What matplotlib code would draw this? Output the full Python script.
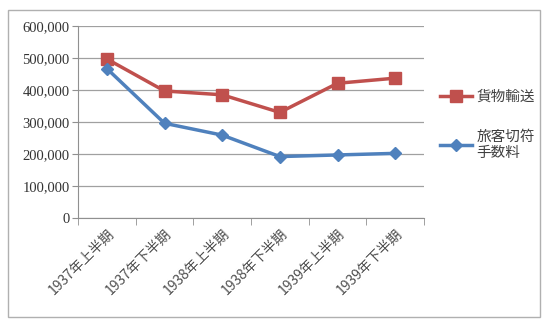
import matplotlib
matplotlib.use("Agg")
import matplotlib.pyplot as plt
from matplotlib.patches import Rectangle
from matplotlib.ticker import FuncFormatter, MultipleLocator, FixedLocator

categories = ["1937年上半期", "1937年下半期", "1938年上半期", "1938年下半期", "1939年上半期", "1939年下半期"]
freight = [497000, 397000, 385000, 330000, 421000, 437000]
passenger = [467000, 296000, 259000, 192000, 197000, 202000]
series_names = ["貨物輸送", "旅客切符\n手数料"]

serif = ["Liberation Serif", "Noto Sans CJK JP", "DejaVu Sans"]
cjk = ["Noto Sans CJK JP", "Liberation Serif", "DejaVu Sans"]

fig = plt.figure(figsize=(5.6, 3.21), dpi=100)
fig.patch.set_facecolor("white")
fig.patches.append(Rectangle((8/560, 1-317/321), 532/560, 307/321, transform=fig.transFigure,
                             fill=False, edgecolor="#b0b0b0", linewidth=1.0))

ax = fig.add_axes([78/560, 1-218/321, 346/560, 192/321])
x = list(range(len(categories)))
l1, = ax.plot(x, freight, color="#C0504D", linewidth=2.5, marker="s", markersize=8, label=series_names[0])
l2, = ax.plot(x, passenger, color="#4F81BD", linewidth=2.5, marker="D", markersize=6.5, label=series_names[1])

ax.set_xlim(-0.5, len(categories) - 0.5)
ax.set_ylim(0, 600000)
ax.yaxis.set_major_locator(MultipleLocator(100000))
ax.yaxis.set_major_formatter(FuncFormatter(lambda v, p: f"{int(v):,}"))
ax.grid(axis="y", color="#a0a0a0", linewidth=0.9)
ax.set_axisbelow(True)
for s in ["top", "right"]:
    ax.spines[s].set_visible(False)
for s in ["left", "bottom"]:
    ax.spines[s].set_color("#909090")
ax.tick_params(axis="y", length=4, color="#909090", labelsize=10.5, pad=2)
for t in ax.get_yticklabels():
    t.set_family(serif)
    t.set_color("#333333")

ax.set_xticks(x)
ax.set_xticklabels(categories, rotation=45, ha="right", va="top", rotation_mode="anchor",
                   fontsize=10, family=cjk, color="#505050")
ax.tick_params(axis="x", which="major", length=0, pad=6)
ax.xaxis.set_minor_locator(FixedLocator([i - 0.5 for i in range(len(categories) + 1)]))
ax.tick_params(axis="x", which="minor", length=5, color="#909090")

leg = fig.legend(handles=[l1, l2], loc="upper left", bbox_to_anchor=(434/560, 1-84/321),
                 frameon=False, prop={"family": cjk, "size": 10.5}, handlelength=2.2,
                 labelspacing=1.75, handletextpad=0.3, borderaxespad=0)
for t in leg.get_texts():
    t.set_color("#404040")

fig.savefig("out.png", dpi=100)
